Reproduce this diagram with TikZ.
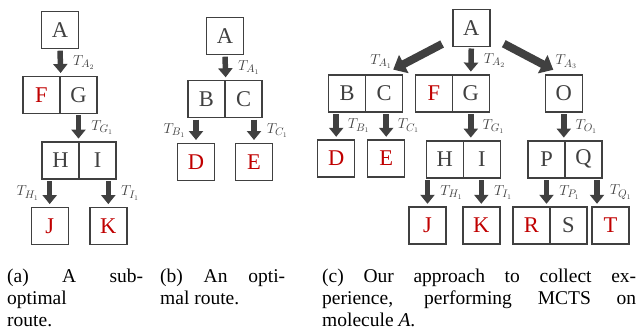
\documentclass[tikz,border=0pt]{standalone}
\usepackage{fontspec}
\setmainfont{Liberation Serif}
\usetikzlibrary{arrows.meta,calc}
\definecolor{dg}{HTML}{404040}
\definecolor{rd}{HTML}{C00000}
\begin{document}
\begin{tikzpicture}[x=1pt,y=-1pt,
  cell/.style={draw=dg, line width=1.4pt, minimum width=37pt, minimum height=37pt, inner sep=0pt, text=dg, font=\fontsize{22.5}{22.5}\selectfont},
  redcell/.style={text=rd},
  blk/.style={draw=dg, line width=5.5pt, -{Triangle[width=14pt,length=9pt]}, shorten <=1.5pt, shorten >=2.5pt},
  bigarrow/.style={draw=dg, line width=8pt, -{Triangle[width=20pt,length=12pt]}},
  lbl/.style={text=dg, inner sep=0pt, font=\fontsize{15}{15}\selectfont},
  captext/.style={inner sep=0pt, anchor=base west, font=\fontsize{19.5}{22}\selectfont, text=black}
]
\useasboundingbox (0,0) rectangle (642,330);

% ---------- panel (a)
\node[cell] (aA) at (60,30) {A};
\node[cell,redcell] (aF) at (41.5,94.7) {F};
\node[cell] (aG) at (78.5,94.7) {G};
\node[cell] (aH) at (60.5,160.3) {H};
\node[cell] (aI) at (97.5,160.3) {I};
\node[cell,redcell] (aJ) at (49.7,225.8) {J};
\node[cell,redcell] (aK) at (108.3,225.8) {K};

\draw[blk] (aA.south) -- node[lbl,right=10pt]{$T_{A_2}$} (aF.north east);
\draw[blk] (aG.south) -- node[lbl,right=10pt]{$T_{G_1}$} (aG.south |- aH.north);
\draw[blk] (aJ.north |- aH.south) -- node[lbl,left=8pt]{$T_{H_1}$} (aJ.north);
\draw[blk] (aK.north |- aI.south) -- node[lbl,right=10pt]{$T_{I_1}$} (aK.north);

% ---------- panel (b)
\node[cell] (bA) at (225,36) {A};
\node[cell] (bB) at (206.5,99) {B};
\node[cell] (bC) at (243.5,99) {C};
\node[cell,redcell] (bD) at (196,161.7) {D};
\node[cell,redcell] (bE) at (254,161.7) {E};

\draw[blk] (bA.south) -- node[lbl,right=10pt]{$T_{A_1}$} (bB.north east);
\draw[blk] (bD.north |- bB.south) -- node[lbl,left=8pt]{$T_{B_1}$} (bD.north);
\draw[blk] (bE.north |- bC.south) -- node[lbl,right=10pt]{$T_{C_1}$} (bE.north);

% ---------- panel (c)
\node[cell] (cA) at (471.3,27.8) {A};
\node[cell] (cB) at (347.2,93.3) {B};
\node[cell] (cC) at (384.2,93.3) {C};
\node[cell,redcell] (cF) at (433.8,93.3) {F};
\node[cell] (cG) at (470.8,93.3) {G};
\node[cell] (cO) at (563.8,93.3) {O};
\node[cell,redcell] (cD) at (336.2,158.5) {D};
\node[cell,redcell] (cE) at (386.2,158.5) {E};
\node[cell] (cH) at (444.8,159.3) {H};
\node[cell] (cI) at (481.8,159.3) {I};
\node[cell] (cP) at (546.5,159.3) {P};
\node[cell] (cQ) at (583.5,159.3) {Q};
\node[cell,redcell] (cJ) at (427.5,225.5) {J};
\node[cell,redcell] (cK) at (481.3,225.5) {K};
\node[cell,redcell] (cR) at (531.3,225.5) {R};
\node[cell] (cS) at (568.3,225.5) {S};
\node[cell,redcell] (cT) at (610.5,225.5) {T};

\coordinate (la) at ($(cA.south west)+(-10,-3)$);
\coordinate (lb) at ($(cC.north)+(9,-4.5)$);
\coordinate (ra) at ($(cA.south east)+(13.3,-3.3)$);
\coordinate (rb) at ($(cO.north)+(-10.5,-4.3)$);
\draw[bigarrow] (la) -- (lb) node[lbl,pos=1,xshift=-12pt,yshift=8pt]{$T_{A_1}$};
\draw[bigarrow] (ra) -- (rb) node[lbl,pos=1,xshift=13pt,yshift=8pt]{$T_{A_3}$};
\draw[blk] (cA.south) -- node[lbl,right=10pt]{$T_{A_2}$} (cG.north);

\draw[blk] (cD.north |- cB.south) -- node[lbl,right=9pt]{$T_{B_1}$} (cD.north);
\draw[blk] (cE.north |- cC.south) -- node[lbl,right=9pt]{$T_{C_1}$} (cE.north);
\draw[blk] (cG.south) -- node[lbl,right=9pt]{$T_{G_1}$} (cG.south |- cH.north);
\draw[blk] (cO.south) -- node[lbl,right=9pt]{$T_{O_1}$} (cO.south |- cP.north);

\draw[blk] (cJ.north |- cH.south) -- node[lbl,right=10pt]{$T_{H_1}$} (cJ.north);
\draw[blk] (cK.north |- cI.south) -- node[lbl,right=10pt]{$T_{I_1}$} (cK.north);
\draw[blk] (cP.south) -- node[lbl,right=10pt]{$T_{P_1}$} (cP.south |- cR.north);
\coordinate (qt) at ($(cQ.south)!0.5!(cT.north)$);
\draw[blk] (qt |- cQ.south) -- node[lbl,right=10pt]{$T_{Q_1}$} (qt |- cT.north);

% ---------- captions
\node[captext] (capa1) at (7,282.3) {\makebox[136pt][s]{(a) A sub-}};
\node[captext] (capa2) at (7,304.3) {optimal};
\node[captext] (capa3) at (7,326.3) {route.};
\node[captext] (capb1) at (160,282.3) {\makebox[125pt][s]{(b) An opti-}};
\node[captext] (capb2) at (160,304.3) {mal route.};
\node[captext] (capc1) at (322,282.3) {\makebox[314pt][s]{(c) Our approach to collect ex-}};
\node[captext] (capc2) at (322,304.3) {\makebox[314pt][s]{perience, performing MCTS on}};
\node[captext] (capc3) at (322,326.3) {molecule \textit{A}.};
\end{tikzpicture}
\end{document}
